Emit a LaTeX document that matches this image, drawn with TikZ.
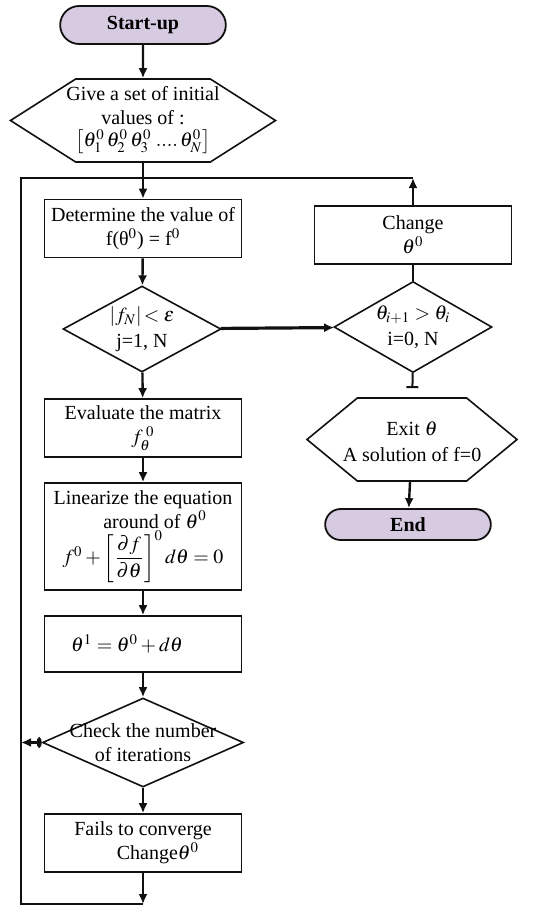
\documentclass[tikz,border=0pt]{standalone}
\usepackage{amsmath}
\usepackage{mathptmx}
\usepackage{fontspec}
\setmainfont{Liberation Serif}
\usepackage{tikz}
\usetikzlibrary{
  arrows.meta, positioning, shapes.geometric, shapes.symbols,
  shapes.misc, calc
}
\definecolor{fcLilac}{HTML}{D6CBE1}
\definecolor{fcInk}{HTML}{111111}
\newcommand{\dtext}[2][2.8pt]{\smash{\makebox[0pt]{\raisebox{-#1}{\begin{tabular}{@{}c@{}}#2\end{tabular}}}}}
\tikzset{
  fc-term/.style={
    rounded rectangle, draw=fcInk, fill=fcLilac, line width=0.9pt,
    minimum width=89.5pt, minimum height=19pt, font=\bfseries
  },
  fc-box/.style={
    rectangle, draw=fcInk, line width=0.8pt, minimum width=98.5pt,
    minimum height=29pt, align=center, inner sep=1pt
  },
  fc-hex/.style={
    signal, signal to=west and east, draw=fcInk, line width=0.8pt,
    minimum height=41.5pt, inner sep=0pt
  },
  fc-dec/.style={
    diamond, draw=fcInk, line width=0.8pt, minimum width=79pt,
    minimum height=43pt, inner sep=0pt
  },
  fc-flow/.style={-{Latex[length=5pt,width=4.5pt]}, line width=1.2pt, draw=fcInk},
  fc-line/.style={line width=1pt, draw=fcInk},
}
\begin{document}
\begin{tikzpicture}[x=0.5pt, y=-0.5pt, font=\normalsize]
  \useasboundingbox (0,0) rectangle (550,912);
  % main column
  \node[fc-term] (start) at (143,25) {Start-up};
  \node[fc-hex, minimum width=132.5pt, signal pointer angle=65] (init) at (143,120.5)
    {\dtext[1.5pt]{Give a set of initial\\values of :\\[-1pt]
     $\left[\theta_1^0\,\theta_2^0\,\theta_3^0\;....\,\theta_N^0\right]$}};
  \node[fc-box] (det) at (143,228.5)
    {Determine the value of\\f(θ$^{0}$) = f$^{0}$};
  \node[fc-dec] (chkf) at (142,329)
    {\dtext{$|f_N|\!<\varepsilon$\\[1pt]j=1, N}};
  \node[fc-box] (evalm) at (143,428)
    {Evaluate the matrix\\$f_\theta^{\;0}$};
  \node[fc-box, minimum height=53.5pt] (lin) at (143,536.5)
    {Linearize the equation\\\hspace*{1.2em}around of $\theta^0$\\
     $f^0+\left[\dfrac{\partial f}{\partial\theta}\right]^0 d\theta=0$};
  \node[fc-box, minimum height=28pt] (upd) at (143,644)
    {$\theta^1=\theta^0+d\theta$\hspace*{1.6em}};
  \node[fc-dec, minimum width=100.5pt, minimum height=44.5pt] (iter) at (143,742.5)
    {\dtext[3.5pt]{Check the number\\of iterations}};
  \node[fc-box] (fail) at (143,843)
    {Fails to converge\\\hspace*{1.5em}Change$\theta^0$};

  % right column
  \node[fc-dec, minimum height=45.5pt] (cmp) at (413,327)
    {\dtext{$\theta_{i+1}>\theta_i$\\[1pt]i=0, N}};
  \node[fc-box] (chg) at (413,235)
    {Change\\$\theta^0$};
  \node[fc-hex, minimum width=105pt, signal pointer angle=79] (exit) at (412,439.5)
    {\dtext[4.5pt]{Exit $\theta$\\[1pt]A solution of f=0}};
  \node[fc-term, minimum height=15.5pt] (stop) at (408,524.5) {End};

  % loop corners
  \coordinate (lpL) at (21,178);
  \coordinate (lpB) at (143,904);

  \draw[fc-flow] (start) -- (init);
  \draw[fc-flow] (init) -- (det);
  \draw[fc-flow] (det) -- (chkf);
  \draw[fc-flow] (chkf) -- (evalm);
  \draw[fc-flow] (evalm) -- (lin);
  \draw[fc-flow] (lin) -- (upd);
  \draw[fc-flow] (upd) -- (iter);
  \draw[fc-flow] (iter) -- (fail);
  \draw[fc-flow] (fail) -- (lpB);
  \draw[fc-line] (lpB) -- (lpB -| lpL) -- (lpL) -- (chg.north |- lpL);
  \draw[fc-flow] (chg) -- (chg.north |- lpL);
  \draw[fc-flow, {Ellipse[open,length=2.5pt,width=5pt]}-{Latex[length=5pt,width=4.5pt]}]
    (iter.west) -- (iter.west -| lpL);
  \draw[fc-flow, line width=1.6pt] (chkf) -- (cmp);
  \draw[fc-line] (cmp) -- (chg);
  \draw[fc-line, -{Bar[width=6pt]}, shorten >=4.5pt] (cmp) -- (exit);
  \draw[fc-flow] (exit) -- (stop);
\end{tikzpicture}
\end{document}
